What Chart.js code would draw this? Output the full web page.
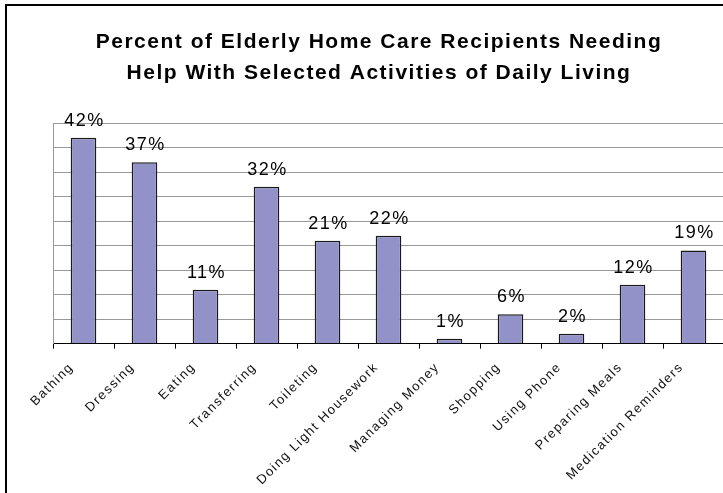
<!DOCTYPE html>
<html>
<head>
<meta charset="utf-8">
<script src="https://cdn.jsdelivr.net/npm/chart.js@4.4.1/dist/chart.umd.min.js"></script>
<style>
  html, body { margin: 0; padding: 0; background: #fff; overflow: hidden; }
  #frame { position: absolute; left: 5px; top: 4px; width: 744px; height: 520px; border: 2px solid #000; }
  canvas { display: block; }
</style>
</head>
<body>
<div id="frame"><canvas id="chart" width="744" height="520"></canvas></div>
<script>
// data
const categories = ['Bathing', 'Dressing', 'Eating', 'Transferring', 'Toileting',
  'Doing Light Housework', 'Managing Money', 'Shopping', 'Using Phone',
  'Preparing Meals', 'Medication Reminders'];
const percentages = [42, 37, 11, 32, 21, 22, 1, 6, 2, 12, 19];
const yMax = 45;
const yStep = 5;
const titleLines = ['Percent of Elderly Home Care Recipients Needing',
  'Help With Selected Activities of Daily Living'];

const FONT = '"Liberation Sans", Arial, sans-serif';
const SPACING = '1.5px';

// old excel text is spaced out a bit, keep that look
const spacing = {
  id: 'spacing',
  beforeUpdate(chart) { chart.ctx.letterSpacing = SPACING; },
  beforeDraw(chart) { chart.ctx.letterSpacing = SPACING; }
};

// value labels over the bars
const valueLabels = {
  id: 'valueLabels',
  afterDatasetsDraw(chart) {
    const ctx = chart.ctx;
    const meta = chart.getDatasetMeta(0);
    ctx.save();
    ctx.letterSpacing = SPACING;
    ctx.font = '18px ' + FONT;
    ctx.fillStyle = '#000';
    ctx.textAlign = 'center';
    ctx.textBaseline = 'alphabetic';
    meta.data.forEach((bar, i) => {
      ctx.fillText(percentages[i] + '%', bar.x + 1, bar.y - 12);
    });
    ctx.restore();
  }
};

new Chart(document.getElementById('chart'), {
  type: 'bar',
  data: {
    labels: categories,
    datasets: [{
      data: percentages,
      backgroundColor: '#9292c9',
      borderColor: '#1a1a1a',
      borderWidth: 1.5,
      categoryPercentage: 1,
      barPercentage: 0.42
    }]
  },
  options: {
    responsive: false,
    animation: false,
    events: [],
    layout: { padding: { left: 27, right: 27, top: 0, bottom: 27 } },
    plugins: {
      legend: { display: false },
      tooltip: { enabled: false },
      title: {
        display: true,
        text: titleLines,
        color: '#000',
        font: { family: FONT, size: 21, weight: 'bold', lineHeight: '31px' },
        padding: { top: 21, bottom: 34 }
      }
    },
    scales: {
      x: {
        grid: { display: true, drawOnChartArea: false, drawTicks: true, tickLength: 5, color: '#000', offset: true },
        border: { color: '#000', width: 1 },
        ticks: {
          autoSkip: false, minRotation: 45, maxRotation: 45,
          padding: 11, labelOffset: -12,
          color: '#111', font: { family: FONT, size: 13 }
        }
      },
      y: {
        min: 0,
        max: yMax,
        afterFit(scale) { scale.width = 19; },
        ticks: { display: false, stepSize: yStep },
        grid: { color: '#999', lineWidth: 1, drawTicks: false },
        border: { color: '#999', width: 1 }
      }
    }
  },
  plugins: [spacing, valueLabels]
});
</script>
</body>
</html>
